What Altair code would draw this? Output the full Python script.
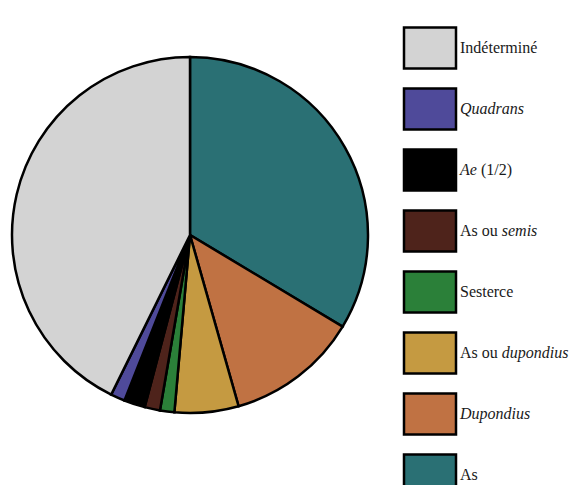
import altair as alt
import pandas as pd

# Pie slices, clockwise from 12 o'clock (percent of total)
categories = ["As", "Dupondius", "As ou dupondius", "Sesterce",
              "As ou semis", "Ae (1/2)", "Quadrans", "Indéterminé"]
values = [33.6, 12.0, 5.8, 1.3, 1.4, 1.9, 1.3, 42.7]
colors = ["#2a7074", "#c07243", "#c59a41", "#2b8039",
          "#4e231b", "#000000", "#4f4a9a", "#d3d3d3"]

# Legend labels split into roman / italic / roman parts
label_pre = ["As", "", "As ou ", "Sesterce", "As ou ", "", "", "Indéterminé"]
label_italic = ["", "Dupondius", "dupondius", "", "semis", "Ae", "Quadrans", ""]
label_post = ["", "", "", "", "", " (1/2)", "", ""]

FONT = "Liberation Serif"
FS = 16
ROMAN_W = {"A": 722, "s": 389, " ": 250, "o": 500, "u": 500}
ITALIC_W = {"A": 611, "e": 444}


def text_w(s, table):
    return sum(table.get(c, 500) for c in s) * FS / 1000.0


TX0 = 452
pie_df = pd.DataFrame({"cat": categories, "value": values,
                       "ord": list(range(len(categories)))})

leg_df = pd.DataFrame({
    "cat": categories,
    "row": [len(categories) - 1 - i for i in range(len(categories))],
    "pre": label_pre,
    "ital": label_italic,
    "post": [s.strip() for s in label_post],
})
leg_df["tx_pre"] = TX0
leg_df["tx_ital"] = [TX0 + text_w(p, ROMAN_W) for p in label_pre]
leg_df["tx_post"] = [TX0 + text_w(p, ROMAN_W) + text_w(it, ITALIC_W)
                     + text_w(po[:len(po) - len(po.lstrip())], ROMAN_W)
                     for p, it, po in zip(label_pre, label_italic, label_post)]

color = alt.Color("cat:N", scale=alt.Scale(domain=categories, range=colors),
                  legend=None)

pie = alt.Chart(pie_df).mark_arc(
    outerRadius=178, stroke="black", strokeWidth=2.5
).encode(
    theta=alt.Theta("value:Q", stack=True),
    color=color,
    order=alt.Order("ord:Q"),
    x=alt.value(182),
    y=alt.value(227),
)

yscale = alt.Scale(domain=[0, 7], range=[40, 467])
base = alt.Chart(leg_df)

boxes = base.transform_calculate(
    y0="datum.row - 0.335", y1="datum.row + 0.335"
).mark_rect(stroke="black", strokeWidth=2.5).encode(
    x=alt.value(396),
    x2=alt.value(448),
    y=alt.Y("y0:Q", scale=yscale, axis=None),
    y2="y1:Q",
    color=color,
)

common = dict(font=FONT, fontSize=FS, align="left", baseline="middle",
              color="#1a1a1a")
txt_pre = base.mark_text(**common).encode(
    x=alt.X("tx_pre:Q", scale=None, axis=None),
    y=alt.Y("row:Q", scale=yscale, axis=None),
    text="pre:N",
)
txt_ital = base.mark_text(fontStyle="italic", **common).encode(
    x=alt.X("tx_ital:Q", scale=None, axis=None),
    y=alt.Y("row:Q", scale=yscale, axis=None),
    text="ital:N",
)
txt_post = base.mark_text(**common).encode(
    x=alt.X("tx_post:Q", scale=None, axis=None),
    y=alt.Y("row:Q", scale=yscale, axis=None),
    text="post:N",
)

chart = alt.layer(pie, boxes, txt_pre, txt_ital, txt_post).properties(
    width=562, height=477, padding=0, autosize=alt.AutoSizeParams(type="none")
).configure_view(strokeWidth=0)

chart.save("out.html", embed_options={"renderer": "svg", "actions": False})
